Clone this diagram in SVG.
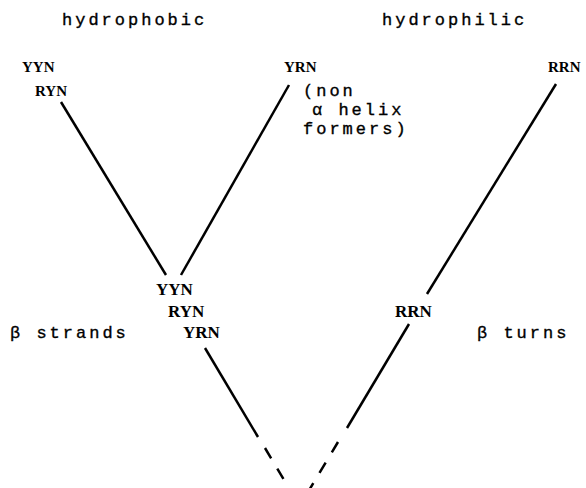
<svg xmlns="http://www.w3.org/2000/svg" width="586" height="488" viewBox="0 0 586 488">
<style>
.h{font-family:"Liberation Mono","DejaVu Sans Mono",monospace;font-size:17px;letter-spacing:3px;fill:#000;stroke:#000;stroke-width:0.35}
.n{font-family:"Liberation Serif","DejaVu Serif",serif;font-size:15px;font-weight:bold;fill:#000}
.m{font-family:"Liberation Serif","DejaVu Serif",serif;font-size:17px;font-weight:bold;fill:#000}
.c line{stroke:#000;stroke-width:2.5;stroke-linecap:butt}
.d{stroke-dasharray:12 12}
</style>
<rect width="586" height="488" fill="#fff"/>
<g id="connectors" class="c">
<line x1="61" y1="102" x2="166" y2="275"/>
<line x1="289" y1="85" x2="181" y2="275"/>
<line x1="556" y1="84" x2="427" y2="294"/>
<line x1="205" y1="348" x2="258" y2="437"/>
<line class="d" x1="265" y1="448" x2="290" y2="490"/>
<line x1="409" y1="324" x2="347" y2="428"/>
<line class="d" x1="338" y1="442" x2="308" y2="492"/>
</g>
<g id="title-hydrophobic"><text class="h" x="62" y="25">hydrophobic</text></g>
<g id="title-hydrophilic"><text class="h" x="382" y="25">hydrophilic</text></g>
<g id="node-left-top"><text class="n" x="22" y="72">YYN</text><text class="n" x="35" y="96">RYN</text></g>
<g id="node-mid-top"><text class="n" x="284" y="72">YRN</text>
<text class="h" x="303" y="96">(non</text>
<text class="h" x="312" y="115">α helix</text>
<text class="h" x="303" y="134">formers)</text></g>
<g id="node-right-top"><text class="n" x="548" y="72">RRN</text></g>
<g id="node-strands"><text class="m" x="156" y="295">YYN</text><text class="m" x="168" y="317">RYN</text><text class="m" x="183" y="338">YRN</text>
<text class="h" x="10" y="338">β strands</text></g>
<g id="node-turns"><text class="m" x="395" y="317">RRN</text>
<text class="h" x="477" y="338">β turns</text></g>
</svg>
